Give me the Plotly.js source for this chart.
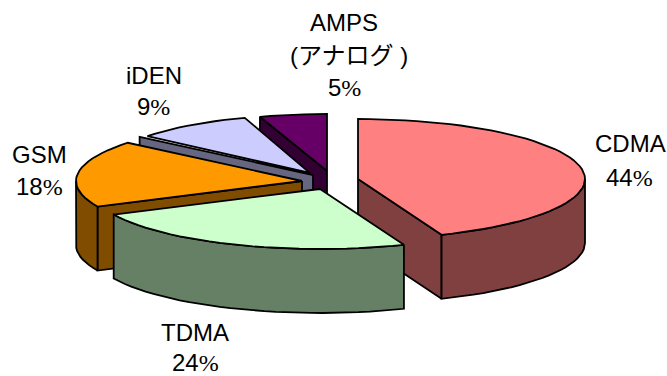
<!DOCTYPE html>
<html>
<head>
<meta charset="utf-8">
<script src="https://cdn.plot.ly/plotly-3.0.1.min.js"></script>
<style>html,body{margin:0;padding:0;background:#fff}#chart{width:667px;height:376px}</style>
</head>
<body>
<div id="chart"></div>
<script>
// Mobile standards share
const labels = ["CDMA", "TDMA", "GSM", "iDEN", "AMPS"];
const subLabels = ["", "", "", "", "(アナログ )"];
const shares = [44, 24, 18, 9, 5];

// Face colours and darker wall colours of each slice
const topColors = ["#FF8080", "#CCFFCC", "#FF9900", "#CCCCFF", "#660066"];
const wallColors = ["#804040", "#668066", "#804D00", "#666680", "#330033"];

// Exploded slice centres and projected radii
const centerX = [358, 320, 302, 310, 327];
const centerY = [179, 189, 181, 173, 171];
const radiusX = [227, 228, 226, 211, 217];
const radiusY = [60, 60, 60, 58, 57];
const wallCenterX = [358, 320, 302, 313, 327];
const wallCenterY = [179, 189, 181, 175, 171];
const wallRadiusX = [227, 228, 226, 225, 217];
const wallRadiusY = [60, 60, 60, 60, 57];
const depth = 64;

// Label anchors
const labelX = [630, 195, 39, 154, 344];
const labelY = [143, 332, 154, 75, 22];
const percentX = [629, 195, 39, 153, 344];
const percentY = [177, 362, 186, 106, 87];
const subLabelX = 349, subLabelY = 55;

// Paint order, back to front
const drawOrder = [0, 4, 3, 2, 1];

const rad = d => d * Math.PI / 180;
function rim(cx, cy, rx, ry, from, to) {
  const n = Math.max(2, Math.ceil((to - from) / 3));
  const xs = [], ys = [];
  for (let i = 0; i <= n; i++) {
    const a = rad(from + (to - from) * i / n);
    xs.push(cx + rx * Math.sin(a));
    ys.push(cy - ry * Math.cos(a));
  }
  return [xs, ys];
}
function poly(x, y, fill) {
  return {
    type: "scatter", mode: "lines", x, y,
    fill: "toself", fillcolor: fill,
    line: {color: "#000", width: 1.8, shape: "linear"},
    hoverinfo: "skip", showlegend: false
  };
}

// Slice angles come from the cumulative shares, clockwise from twelve o'clock
const total = shares.reduce((a, b) => a + b, 0);
const startAngle = [], endAngle = [];
shares.reduce((acc, v, i) => {
  startAngle[i] = acc / total * 360;
  endAngle[i] = (acc + v) / total * 360;
  return acc + v;
}, 0);

const traces = [];
drawOrder.forEach(i => {
  const s = startAngle[i], e = endAngle[i];
  const wx = wallCenterX[i], wy = wallCenterY[i], wrx = wallRadiusX[i], wry = wallRadiusY[i];

  // Radial cut wall facing the viewer
  const cut = Math.sin(rad(e)) > 0.01 ? e : (Math.sin(rad(s)) < -0.01 ? s : null);
  if (cut !== null) {
    const ox = wx + wrx * Math.sin(rad(cut)), oy = wy - wry * Math.cos(rad(cut));
    traces.push(poly([wx, ox, ox, wx, wx], [wy, oy, oy + depth, wy + depth, wy], wallColors[i]));
  }

  // Curved outer wall on the front half of the ellipse
  const a = Math.max(s, 90), b = Math.min(e, 270);
  if (b > a) {
    const [rxs, rys] = rim(wx, wy, wrx, wry, a, b);
    const x = rxs.concat(rxs.slice().reverse(), [rxs[0]]);
    const y = rys.concat(rys.slice().reverse().map(v => v + depth), [rys[0]]);
    traces.push(poly(x, y, wallColors[i]));
  }

  // Top face
  const [fx, fy] = rim(centerX[i], centerY[i], radiusX[i], radiusY[i], s, e);
  traces.push(poly([centerX[i]].concat(fx, [centerX[i]]), [centerY[i]].concat(fy, [centerY[i]]), topColors[i]));
});

const textFont = {family: "Liberation Sans, Arial, sans-serif", size: 24, color: "#000"};
const note = (x, y, text, font) => ({
  x, y, text, xref: "x", yref: "y", showarrow: false,
  xanchor: "center", yanchor: "middle", font: font || textFont
});
// The percent sign is set in the narrow cut
const percentText = v => v + "<span style=\"font-family:'Liberation Sans Narrow'\">%</span>";
const annotations = [];
labels.forEach((name, i) => {
  annotations.push(note(labelX[i], labelY[i], name));
  annotations.push(note(percentX[i], percentY[i], percentText(shares[i])));
  if (subLabels[i]) {
    annotations.push(note(subLabelX, subLabelY, subLabels[i],
      {family: "Liberation Sans, Noto Sans CJK JP, sans-serif", size: 24, color: "#000"}));
  }
});

Plotly.newPlot("chart", traces, {
  width: 667, height: 376,
  margin: {l: 0, r: 0, t: 0, b: 0},
  paper_bgcolor: "#fff", plot_bgcolor: "#fff",
  xaxis: {range: [0, 667], visible: false, fixedrange: true},
  yaxis: {range: [376, 0], visible: false, fixedrange: true},
  annotations,
  showlegend: false
}, {displayModeBar: false, staticPlot: true});
</script>
</body>
</html>
